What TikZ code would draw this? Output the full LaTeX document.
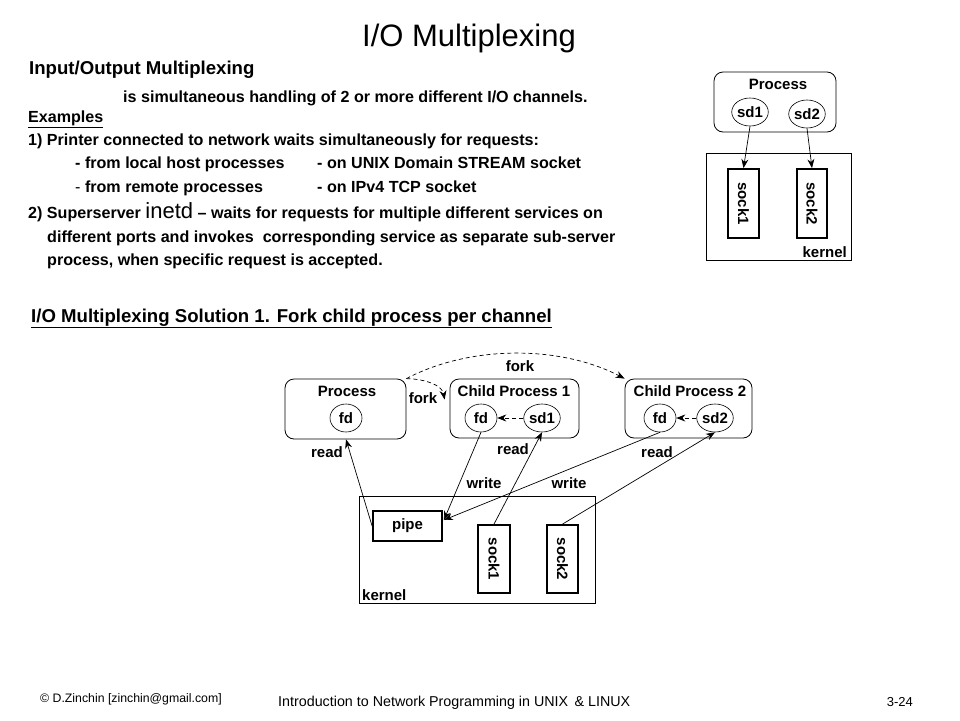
\documentclass[tikz,border=0pt]{standalone}
\usepackage{fontspec}
\setmainfont{Liberation Sans}
\usetikzlibrary{shapes.geometric,arrows.meta,calc}
\newcommand\myfs[1]{\fontsize{#1}{#1}\selectfont}
\begin{document}
\begin{tikzpicture}[x=1pt,y=-1pt,
  txt/.style={anchor=base west,inner sep=0pt,font=\bfseries\myfs{16.1}},
  hd/.style={anchor=base west,inner sep=0pt,font=\bfseries\myfs{18.6}},
  lbl/.style={inner sep=0pt,font=\bfseries\myfs{15}},
  proc/.style={draw,line width=0.8pt,rounded corners=9pt},
  circ/.style={draw,ellipse,line width=0.6pt,minimum width=32pt,minimum height=28pt,inner sep=0pt,font=\bfseries\myfs{15}},
  sockbox/.style={draw,line width=1.8pt},
  kern/.style={draw,line width=0.8pt},
  arr/.style={-{Stealth[length=9pt,width=7pt]},line width=0.7pt},
  darr/.style={arr,dashed,dash pattern=on 4pt off 3pt},
  foot/.style={anchor=base west,inner sep=0pt,font=\myfs{13}}]
\useasboundingbox (0,0) rectangle (960,720);

% title
\node[font=\myfs{31}] (title) at (469,38) {I/O Multiplexing};

% body text
\node[hd] (h1) at (29,74) {Input/Output Multiplexing};
\node[txt] (l1) at (123,102) {is simultaneous handling of 2 or more different I/O channels.};
\node[txt] (l2) at (28,122) {\underline{Examples}};
\node[txt] (l3) at (28,145) {1) Printer connected to network waits simultaneously for requests:};
\node[txt] (l4a) at (75,168) {- from local host processes};
\node[txt] (l4b) at (317,168) {- on UNIX Domain STREAM socket};
\node[txt] (l5a) at (75,192) {{\mdseries -} from remote processes};
\node[txt] (l5b) at (317,192) {- on IPv4 TCP socket};
\node[txt] (l6) at (28,218) {2) Superserver {\mdseries\myfs{22}inetd} – waits for requests for multiple different services on};
\node[txt] (l7) at (47,242) {different ports and invokes\ \ corresponding service as separate sub-server};
\node[txt] (l8) at (47,265) {process, when specific request is accepted.};
\node[hd] (h2) at (31,322) {\underline{I/O Multiplexing Solution 1. Fork child process per channel}};

% top-right diagram
\node[proc,minimum width=122pt,minimum height=60pt] (tp) at (775,102) {};
\node[lbl] (tpt) at (778,84) {Process};
\node[circ] (tsd1) at (750,112) {sd1};
\node[circ] (tsd2) at (807,114) {sd2};
\node[kern,minimum width=145pt,minimum height=107pt] (tk) at (778.5,206.5) {};
\node[sockbox,minimum width=31pt,minimum height=69pt] (ts1) at (743.5,203.5) {};
\node[lbl,rotate=-90] (ts1t) at (ts1) {sock1};
\node[sockbox,minimum width=30pt,minimum height=69pt] (ts2) at (812,203.5) {};
\node[lbl,rotate=-90] (ts2t) at (ts2) {sock2};
\node[lbl,anchor=east] (tkt) at (847,252) {kernel};
\draw[arr] (tsd1.south) -- (ts1.north);
\draw[arr] (tsd2.south) -- (ts2.north);

% bottom diagram
\node[proc,minimum width=121pt,minimum height=60pt] (p0) at (345.5,409) {};
\node[lbl] (p0t) at (347,391) {Process};
\node[circ] (f0) at (346,418) {fd};
\node[proc,minimum width=129pt,minimum height=59pt] (c1) at (514.5,408.5) {};
\node[lbl] (c1t) at (514,391) {Child Process 1};
\node[circ] (f1) at (481,418) {fd};
\node[circ] (s1) at (542,418) {sd1};
\node[proc,minimum width=127pt,minimum height=59pt] (c2) at (688.5,408.5) {};
\node[lbl] (c2t) at (690,391) {Child Process 2};
\node[circ] (f2) at (660,418) {fd};
\node[circ] (s2) at (715,418) {sd2};

\node[kern,minimum width=236pt,minimum height=107pt] (bk) at (477,549.5) {};
\node[sockbox,minimum width=69pt,minimum height=30pt] (pipe) at (407.5,526) {};
\node[lbl] (pipet) at (pipe) {pipe};
\node[sockbox,minimum width=32pt,minimum height=68pt] (k1) at (494,559) {};
\node[lbl,rotate=-90] (k1t) at (k1) {sock1};
\node[sockbox,minimum width=31pt,minimum height=68pt] (k2) at (562.5,559) {};
\node[lbl,rotate=-90] (k2t) at (k2) {sock2};
\node[lbl,anchor=west] (bkt) at (362,595) {kernel};

\coordinate (pin) at ($(pipe.east)+(1,-6)$);
\coordinate (ftip) at ($(c1.west)+(-5,-9)$);

\draw[darr] (s1.west) -- (f1.east);
\draw[darr] (s2.west) -- (f2.east);
\draw[darr] (p0.north east) .. controls (425,379) and (442,385) .. (ftip);
\draw[darr] (p0.north east) .. controls (470,345) and (560,345) .. (c2.north west);
\node[lbl] (fk1) at (423,398) {fork};
\node[lbl] (fk2) at (520,366) {fork};

\draw[arr] (pipe.west) -- (f0 |- p0.south);
\draw[arr] (f1.south) -- (pin);
\draw[arr] (f2.south) -- (pin);
\draw[arr] (k1.north) -- (s1.south);
\draw[arr] (k2.north) -- (s2.south);
\node[lbl] (r0) at (327,452) {read};
\node[lbl] (r1) at (513,449) {read};
\node[lbl] (r2) at (657,452) {read};
\node[lbl] (w1) at (484,483) {write};
\node[lbl] (w2) at (569,483) {write};

% footer
\node[foot,font=\myfs{12.3}] (ft1) at (40,702) {© D.Zinchin [zinchin@gmail.com]};
\node[foot,font=\myfs{14.3}] (ft2) at (278,706) {Introduction to Network Programming in UNIX \,\& LINUX};
\node[foot,font=\myfs{13},anchor=base east] (ft3) at (913,706) {3-24};
\end{tikzpicture}
\end{document}
